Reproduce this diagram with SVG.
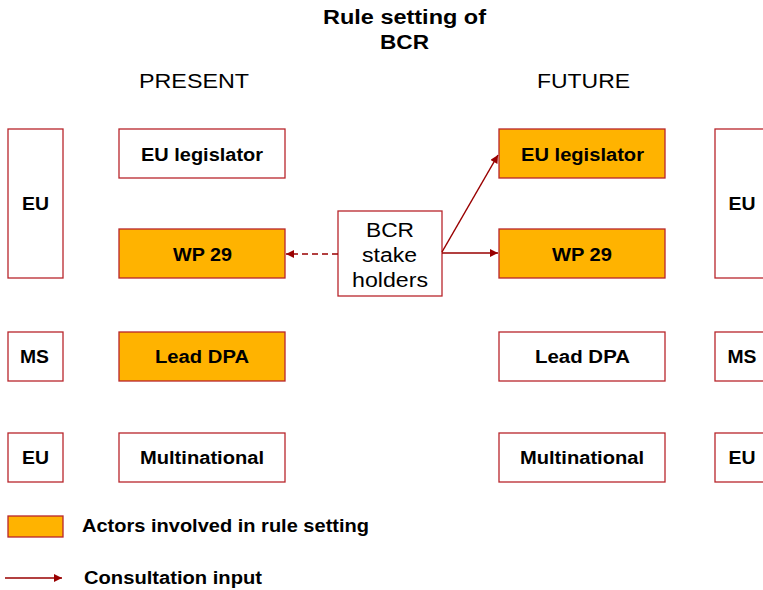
<svg xmlns="http://www.w3.org/2000/svg" width="763" height="590" viewBox="0 0 763 590">
<style>
.b{fill:#fff;stroke:#b8262b;stroke-width:1.3}
.o{fill:#ffb300;stroke:#b8262b;stroke-width:1.3}
.t{font-family:"Liberation Sans",Arial,sans-serif;font-weight:bold;font-size:17.5px;fill:#000;text-anchor:middle}
.h{font-family:"Liberation Sans",Arial,sans-serif;font-size:20px;fill:#000;text-anchor:middle}
.s{text-anchor:start}
.c{stroke:#990000;stroke-width:1.5;fill:none}
</style>
<defs>
<marker id="ah" viewBox="0 0 10 10" refX="10" refY="5" markerWidth="9" markerHeight="8" orient="auto" markerUnits="userSpaceOnUse">
<path d="M0,0L10,5L0,10z" fill="#990000"/>
</marker>
</defs>
<rect width="763" height="590" fill="#fff"/>
<text class="t" x="404.5" y="24" style="font-size:20px" textLength="163" lengthAdjust="spacingAndGlyphs">Rule setting of</text>
<text class="t" x="404.5" y="49" style="font-size:20px" textLength="49" lengthAdjust="spacingAndGlyphs">BCR</text>
<text class="h" x="194" y="88" textLength="110" lengthAdjust="spacingAndGlyphs">PRESENT</text>
<text class="h" x="583.5" y="88" textLength="93" lengthAdjust="spacingAndGlyphs">FUTURE</text>

<g id="eu-left"><rect class="b" x="8" y="129" width="55" height="149"/><text class="t" x="35.5" y="210" textLength="27" lengthAdjust="spacingAndGlyphs">EU</text></g>
<g id="ms-left"><rect class="b" x="8" y="332" width="55" height="49"/><text class="t" x="34.5" y="363" textLength="29" lengthAdjust="spacingAndGlyphs">MS</text></g>
<g id="eu-left2"><rect class="b" x="8" y="433" width="55" height="49"/><text class="t" x="35.5" y="464" textLength="27" lengthAdjust="spacingAndGlyphs">EU</text></g>

<g id="p-legislator"><rect class="b" x="119" y="129" width="166" height="49"/><text class="t" x="202" y="161" textLength="122" lengthAdjust="spacingAndGlyphs">EU legislator</text></g>
<g id="p-wp29"><rect class="o" x="119" y="229" width="166" height="49"/><text class="t" x="202.5" y="261" textLength="59" lengthAdjust="spacingAndGlyphs">WP 29</text></g>
<g id="p-leaddpa"><rect class="o" x="119" y="332" width="166" height="49"/><text class="t" x="202" y="363" textLength="94" lengthAdjust="spacingAndGlyphs">Lead DPA</text></g>
<g id="p-multi"><rect class="b" x="119" y="433" width="166" height="49"/><text class="t" x="202" y="464" textLength="124" lengthAdjust="spacingAndGlyphs">Multinational</text></g>

<g id="bcr"><rect class="b" x="338" y="211" width="104" height="85"/>
<text class="h" x="390" y="237" textLength="48" lengthAdjust="spacingAndGlyphs">BCR</text><text class="h" x="389.5" y="262" textLength="55" lengthAdjust="spacingAndGlyphs">stake</text><text class="h" x="390" y="287" textLength="76" lengthAdjust="spacingAndGlyphs">holders</text></g>

<g id="f-legislator"><rect class="o" x="499" y="129" width="166" height="49"/><text class="t" x="582.5" y="161" textLength="123" lengthAdjust="spacingAndGlyphs">EU legislator</text></g>
<g id="f-wp29"><rect class="o" x="499" y="229" width="166" height="49"/><text class="t" x="582" y="261" textLength="60" lengthAdjust="spacingAndGlyphs">WP 29</text></g>
<g id="f-leaddpa"><rect class="b" x="499" y="332" width="166" height="49"/><text class="t" x="582.5" y="363" textLength="95" lengthAdjust="spacingAndGlyphs">Lead DPA</text></g>
<g id="f-multi"><rect class="b" x="499" y="433" width="166" height="49"/><text class="t" x="582" y="464" textLength="124" lengthAdjust="spacingAndGlyphs">Multinational</text></g>

<g id="eu-right"><rect class="b" x="715" y="129" width="60" height="149"/><text class="t" x="742" y="210" textLength="27" lengthAdjust="spacingAndGlyphs">EU</text></g>
<g id="ms-right"><rect class="b" x="715" y="332" width="60" height="49"/><text class="t" x="742" y="363" textLength="29" lengthAdjust="spacingAndGlyphs">MS</text></g>
<g id="eu-right2"><rect class="b" x="715" y="433" width="60" height="49"/><text class="t" x="742" y="464" textLength="27" lengthAdjust="spacingAndGlyphs">EU</text></g>

<g id="connectors">
<line class="c" x1="338" y1="254" x2="286" y2="254" stroke-dasharray="6,4" marker-end="url(#ah)"/>
<line class="c" x1="442" y1="253" x2="498" y2="253" marker-end="url(#ah)"/>
<line class="c" x1="442" y1="252" x2="498" y2="155" marker-end="url(#ah)"/>
</g>

<g id="legend">
<rect class="o" x="8" y="516" width="55" height="21"/>
<text class="t s" x="82" y="532" textLength="287" lengthAdjust="spacingAndGlyphs">Actors involved in rule setting</text>
<line class="c" x1="5" y1="578" x2="62" y2="578" marker-end="url(#ah)"/>
<text class="t s" x="84" y="584" textLength="178" lengthAdjust="spacingAndGlyphs">Consultation input</text>
</g>
</svg>
